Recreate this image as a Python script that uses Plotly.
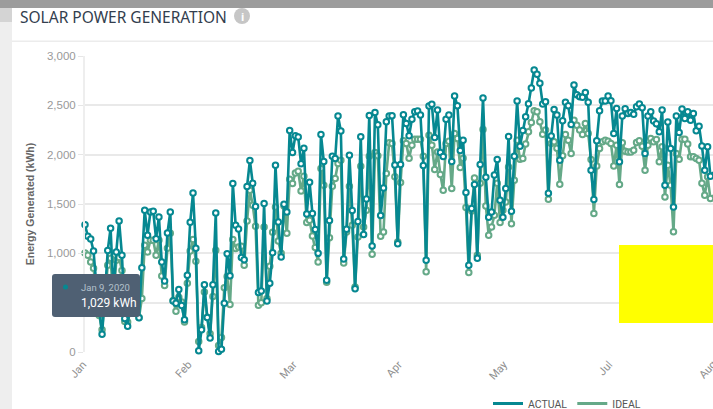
import plotly.graph_objects as go

actual = [1290,1173,1145,1023,675,421,181,574,1029,1254,624,1013,1328,980,340,262,523,675,574,347,855,1437,1183,1419,1426,1149,1368,912,719,1206,1419,516,495,634,472,327,777,1315,1612,1051,12,225,682,350,142,682,1409,5,28,495,997,772,1708,1284,1247,959,936,1677,1941,1711,1474,604,617,1505,516,698,1007,1893,1318,962,1497,1419,2246,2022,2191,2178,1907,2066,1399,1721,1403,1241,1000,2205,1931,726,1332,1985,1961,2391,2239,942,1244,1995,1433,642,1322,2181,1190,1551,2396,1074,2428,2302,1383,1663,2333,2391,2394,1896,1098,1900,2404,2317,2191,2360,2434,2442,2401,1890,929,2492,2510,2175,2452,2022,1982,2360,2401,1931,2594,2495,2043,2147,1616,878,1454,1697,949,1900,2574,1772,1365,1419,1795,1951,1538,1365,1657,2185,1426,1985,2543,2086,2246,2384,2516,2675,2858,2814,2723,2513,2536,1609,2188,2459,2401,1944,2343,2530,2495,2307,2706,2607,2587,2581,2631,2530,1843,1545,2140,2445,2543,2543,2594,2546,2215,2469,1927,2391,2465,2418,2428,2410,2485,2513,2475,2012,2391,2434,2340,2313,2231,2452,1690,2330,2063,1470,2391,2225,2462,2367,2434,2350,2418,2242,2289,2089,1843,2079,1782,1822]
ideal = [1003,980,912,848,624,371,225,523,878,949,523,929,959,827,310,303,421,574,472,350,543,1081,1013,1132,1132,980,1132,770,675,1051,1203,523,414,556,506,303,698,1023,1139,919,107,249,607,353,185,563,1030,66,147,652,766,482,1139,1048,1064,1071,878,1328,1640,1487,1274,475,499,1267,543,868,1213,1470,1125,1000,1480,1203,1751,1708,1815,1832,1632,1782,1312,1335,1176,1058,912,1860,1690,706,1159,1680,1758,1911,1944,901,1216,1680,1284,658,1165,1883,1267,1437,1985,990,2022,1988,1173,1216,1809,2120,2114,1775,1115,1718,2140,2114,1964,2096,2157,2157,2157,1985,814,2198,2096,1850,2028,1799,1640,2114,2137,1657,2215,2164,1870,1964,1464,807,1430,1764,980,1711,2256,1480,1183,1267,1386,1711,1312,1437,1521,1876,1301,1741,2147,1954,1961,2107,2231,2327,2445,2434,2333,2208,2249,1548,2114,2130,2066,1700,1988,2205,2147,2012,2350,2299,2249,2205,2317,2215,1951,1403,1886,2063,2130,2147,2137,2114,1886,2096,1697,2120,2035,2028,2028,2045,2124,2140,2086,1843,2096,2164,2130,2154,1927,2079,1572,1893,1690,1220,2012,1954,2157,2157,2107,1978,1978,1961,1944,1711,1589,1775,1555,1589]
month_labels = ["Jan", "Feb", "Mar", "Apr", "May", "Jul"]
last_month = "Aug"
y_ticks = [0, 500, 1000, 1500, 2000, 2500, 3000]
y_labels = ["0", "500", "1,000", "1,500", "2,000", "2,500", "3,000"]

TEAL = "#068891"
GREEN = "#65a988"
W, H = 713, 409
L, T, PW, PH = 85, 56, 628, 296


def fx(px):
    return (px - L) / PW


def fy(py):
    return 1 - (py - T) / PH


def rect(x0, y0, x1, y1, fill, layer="below"):
    return dict(type="rect", xref="paper", yref="paper", x0=fx(x0), x1=fx(x1), y0=fy(y0), y1=fy(y1),
                fillcolor=fill, line_width=0, layer=layer)


def note(text, px, py, size, color, family="Noto Sans", anchor="left", angle=0):
    return dict(text=text, xref="paper", yref="paper", x=fx(px), y=fy(py), showarrow=False, textangle=angle,
                xanchor=anchor, yanchor="middle", font=dict(size=size, color=color, family=family))


fig = go.Figure()
xs = list(range(len(actual)))
for name, vals, col in [("IDEAL", ideal, GREEN), ("ACTUAL", actual, TEAL)]:
    fig.add_trace(go.Scatter(x=xs, y=vals, name=name, mode="lines+markers", cliponaxis=False, showlegend=False,
                             line=dict(color=col, width=2.6),
                             marker=dict(size=5.5, color="white", line=dict(color=col, width=2))))
for name, col in [("ACTUAL", TEAL), ("IDEAL", GREEN)]:
    fig.add_trace(go.Scatter(x=[None], y=[None], name=name, mode="lines", line=dict(color=col, width=3)))

shapes = [
    rect(0, 0, W, 8, "#9c9c9c"),
    rect(0, 8, 12, H, "#eeeeee"),
    rect(0, 8, 12, 22, "#d4d4d4"),
    rect(12, 40.5, W, 42, "#ececec"),
    dict(type="circle", xref="paper", yref="paper", x0=fx(234), x1=fx(250), y0=fy(8), y1=fy(24),
         fillcolor="#c6c6c6", line_width=0, layer="below"),
    rect(619, 245, W, 323, "#ffff00", "above"),
    dict(type="path", xref="paper", yref="paper", layer="above", fillcolor="#4f6073", line_width=0,
         path=f"M {fx(55)} {fy(274)} L {fx(137)} {fy(274)} Q {fx(140)} {fy(274)} {fx(140)} {fy(277)} "
              f"L {fx(140)} {fy(314)} Q {fx(140)} {fy(317)} {fx(137)} {fy(317)} L {fx(55)} {fy(317)} "
              f"Q {fx(52)} {fy(317)} {fx(52)} {fy(314)} L {fx(52)} {fy(277)} Q {fx(52)} {fy(274)} {fx(55)} {fy(274)} Z"),
    dict(type="circle", xref="paper", yref="paper", layer="above", x0=fx(63), x1=fx(68), y0=fy(284.5), y1=fy(289.5),
         fillcolor=TEAL, line_width=0),
]
annotations = [
    note("SOLAR POWER GENERATION", 18, 17, 15.5, "#333e4e"),
    note("<b>i</b>", 242, 16, 11, "#ffffff", anchor="center"),
    note("Jan 9, 2020", 78.5, 287, 9.5, "#b4c0cc", "Roboto"),
    note("1,029 kWh", 78.5, 303, 12, "#ffffff", "Roboto"),
    note(last_month, 707, 370, 11, "#8f8f8f", "Roboto", anchor="center", angle=-48),
]

fig.update_layout(
    width=W, height=H, autosize=False,
    margin=dict(l=L, t=T, r=W - L - PW, b=H - T - PH, pad=0, autoexpand=False),
    paper_bgcolor="white", plot_bgcolor="white",
    font=dict(family="Liberation Sans", color="#999999"),
    shapes=shapes, annotations=annotations,
    xaxis=dict(range=[0, 220.9], tickmode="array", tickvals=[37 * k for k in range(len(month_labels))],
               ticktext=month_labels, tickangle=-48, showgrid=False, showline=False, zeroline=False, automargin=False,
               ticks="", ticklabelshift=-2, ticklabelstandoff=3, tickfont=dict(size=11, family="Roboto", color="#8f8f8f")),
    yaxis=dict(range=[0, 3000], tickmode="array", tickvals=y_ticks, ticktext=y_labels, gridcolor="#e9e9e9",
               gridwidth=1.5, zeroline=False, showline=True, linecolor="#eeeeee", linewidth=2, ticks="outside",
               automargin=False, ticklen=5, tickcolor="#e6e6e6", tickfont=dict(size=11.5, color="#999999"),
               title=dict(text="<b>Energy Generated (kWh)</b>", standoff=10,
                          font=dict(size=10.5, color="#666666", family="Liberation Sans"))),
    legend=dict(orientation="h", x=fx(488), y=fy(389), xanchor="left", yanchor="top",
                font=dict(size=10.5, family="Roboto", color="#555555"), itemwidth=30, bgcolor="rgba(0,0,0,0)"),
    hovermode="closest",
)
fig.write_html("out.html", config={"displayModeBar": False},
               post_script="document.body.style.margin='0';document.body.style.overflow='hidden';")
